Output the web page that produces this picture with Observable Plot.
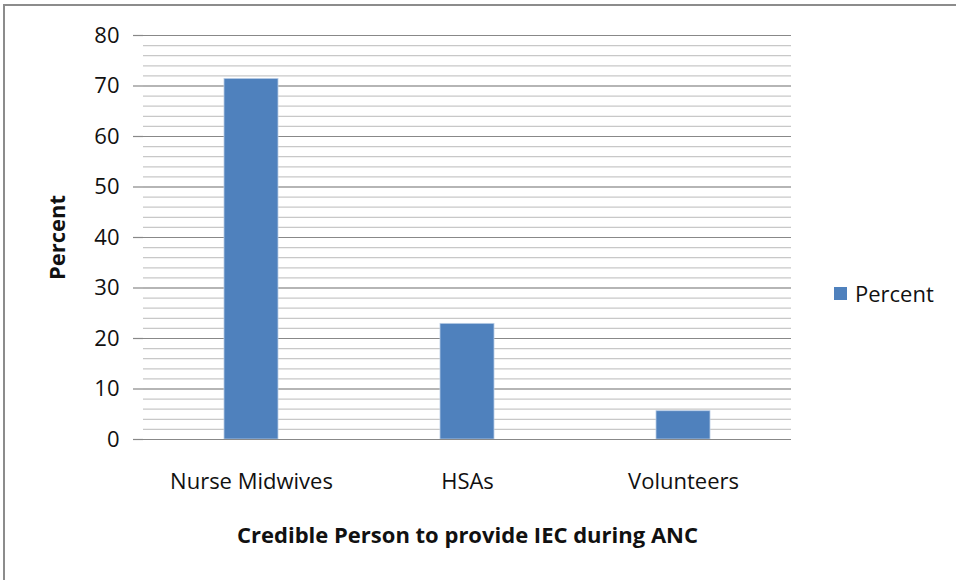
<!DOCTYPE html>
<html>
<head>
<meta charset="utf-8">
<script src="https://cdn.jsdelivr.net/npm/d3@7"></script>
<script src="https://cdn.jsdelivr.net/npm/@observablehq/plot@0.6"></script>
<style>
  html, body { margin: 0; padding: 0; background: #fff; }
  #wrap { position: relative; width: 956px; height: 580px; overflow: hidden; }
  #frame { position: absolute; left: 3px; top: 4px; width: 1000px; height: 700px;
           border-left: 2px solid #8c8c8c; border-top: 2px solid #8c8c8c; }
  #chart { position: absolute; left: 0; top: 0; }
  #legend { position: absolute; left: 834px; top: 278px; font: 22px "Open Sans", sans-serif;
            color: #111; display: flex; align-items: center; }
  #legend span.sw { display: inline-block; width: 13px; height: 13px; background: #4f81bd; margin-right: 8px; }
</style>
</head>
<body>
<div id="wrap">
  <div id="frame"></div>
  <div id="chart"></div>
  <div id="legend"><span class="sw"></span><span id="legtext"></span></div>
</div>
<script>
const categories = ["Nurse Midwives", "HSAs", "Volunteers"];
const percentValues = [71.4, 22.9, 5.6];
const seriesName = "Percent";
const yTicks = [0, 10, 20, 30, 40, 50, 60, 70, 80];
const yMinorTicks = d3.range(0, 81, 2);
const xTitle = "Credible Person to provide IEC during ANC";
const yTitle = "Percent";

const data = categories.map((c, i) => ({category: c, value: percentValues[i]}));
document.getElementById("legtext").textContent = seriesName;

const chart = Plot.plot({
  width: 956,
  height: 580,
  marginLeft: 143,
  marginRight: 165,
  marginTop: 35,
  marginBottom: 141,
  style: {fontFamily: "'Open Sans', sans-serif", fontSize: "22px", color: "#111", background: "transparent"},
  x: {domain: categories, paddingInner: 0.75, paddingOuter: 0.375},
  y: {domain: [0, 80]},
  marks: [
    Plot.ruleY(yMinorTicks, {stroke: "#c8c8c8", strokeWidth: 1.2}),
    Plot.ruleY(yTicks, {stroke: "#888", strokeWidth: 1.2}),
    Plot.barY(data, {x: "category", y: "value", fill: "#4f81bd", stroke: "#b9cde5", strokeWidth: 0.8}),
    Plot.axisY({ticks: yTicks, tickSize: 10, tickPadding: 14, stroke: "#888", strokeWidth: 1.2, line: true, fontSize: 22,
      label: yTitle, labelAnchor: "center", labelOffset: 94, labelArrow: "none"}),
    Plot.axisX({tickSize: 0, tickPadding: 34, fontSize: 22,
      label: xTitle, labelAnchor: "center", labelOffset: 103, labelArrow: "none"}),
    Plot.ruleY([0], {stroke: "#888", strokeWidth: 1.2, insetLeft: -10})
  ]
});
document.getElementById("chart").appendChild(chart);
// bold the axis titles
chart.querySelectorAll("g[aria-label='y-axis label'] text, g[aria-label='x-axis label'] text")
  .forEach(t => { t.style.fontWeight = "bold"; t.style.fontSize = "22px"; });
</script>
</body>
</html>
